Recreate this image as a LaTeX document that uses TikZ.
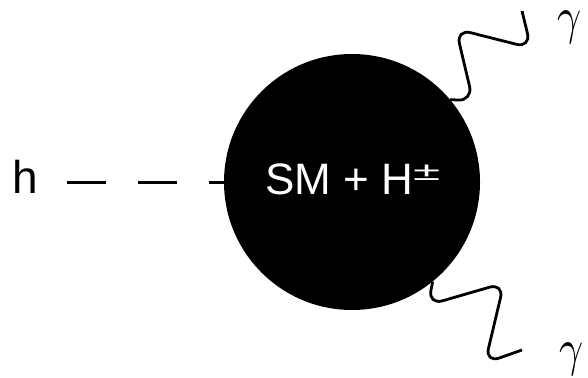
\documentclass[tikz,border=0pt]{standalone}
\usepackage{fontspec}
\setmainfont{Liberation Sans}
\tikzset{
  blob/.style={circle,fill=black,inner sep=0pt,minimum size=256pt},
  scalar/.style={line width=3pt,dash pattern=on 39pt off 32pt},
  photon/.style={line width=2.8pt,rounded corners=15pt,line join=round},
  lbl/.style={inner sep=0pt,anchor=base},
}

\begin{document}
\begin{tikzpicture}[x=1pt,y=1pt]
  \useasboundingbox (0,0) rectangle (588,-377);

  % 端点
  \coordinate (hv) at (67,-182);
  \coordinate (pu) at (522,-11);
  \coordinate (pd) at (522,-350);

  % 圆圈
  \node[blob] (loop) at (352,-182) {};

  % 线
  \draw[scalar] (hv) -- (loop.west);
  \draw[photon] (loop.40) -- (473,-101) -- (456,-29) -- (531,-48) -- (pu);
  \draw[photon] (loop.-51) -- (428,-305) -- (504,-283) -- (485,-363) -- (pd);

  % 文字
  \node[lbl,anchor=base west,text=white,font=\fontsize{44}{50}\selectfont] (sm) at (265,-194)
    {SM + H\raisebox{14pt}{\scalebox{1.9}[1]{\fontsize{26}{26}\selectfont ±}}};
  \node[lbl,font=\fontsize{46}{50}\selectfont] (h) at (25,-193) {h};
  \node[lbl] (gu) at (570,-34) {\scalebox{4.2}[5.2]{$\gamma$}};
  \node[lbl] (gd) at (572,-365) {\scalebox{4.2}[5.2]{$\gamma$}};
\end{tikzpicture}
\end{document}
